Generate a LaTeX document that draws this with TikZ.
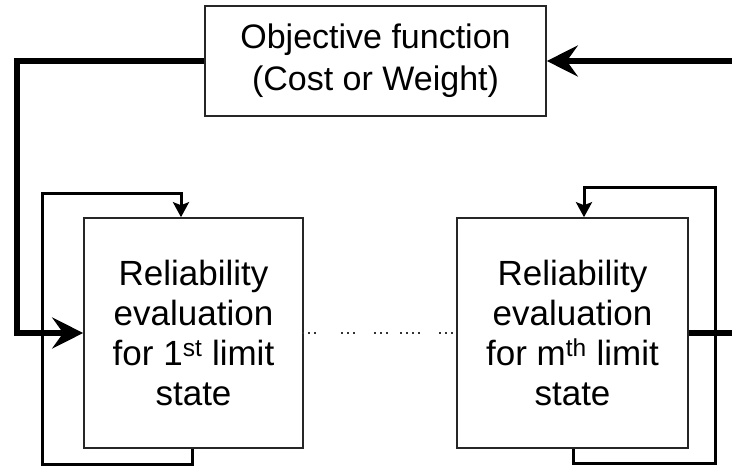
\documentclass[tikz,border=0pt]{standalone}
\usepackage{fontspec}
\setmainfont{Liberation Sans}
\usetikzlibrary{arrows.meta}
\begin{document}
\begin{tikzpicture}[x=1pt,y=-1pt,
  boxstyle/.style={draw=black!85,line width=1.6pt,fill=white,inner sep=0pt,align=center},
  bigtext/.style={font=\fontsize{35}{40}\selectfont},
  toptext/.style={font=\fontsize{34}{42}\selectfont},
  thickline/.style={line width=6.5pt},
  thickarrow/.style={line width=6.5pt,-{Stealth[length=31pt,width=31pt,inset=11pt]}},
  thinarrow/.style={line width=3pt,-{Stealth[length=15pt,width=16pt,inset=3pt]}},
  dotstyle/.style={fill=black!80}]
\clip (0,0) rectangle (732,467);
\useasboundingbox (0,0) rectangle (732,467);
\fill[white] (0,0) rectangle (732,467);

\node[boxstyle,toptext,minimum width=341pt,minimum height=110pt] (top) at (375.5,61)
  {Objective function\\(Cost or Weight)};
\node[boxstyle,bigtext,minimum width=219pt,minimum height=230pt] (L) at (193.5,333)
  {Reliability\\evaluation\\for 1\textsuperscript{st} limit\\state};
\node[boxstyle,bigtext,minimum width=231pt,minimum height=230pt] (R) at (572.5,333)
  {Reliability\\evaluation\\for m\textsuperscript{th} limit\\state};

% thick connectors
\coordinate (lc) at (17,61);
\coordinate (te) at (745,61);
\coordinate (re) at (745,333);
\draw[thickarrow] (top.west) -- (lc) |- (L.west);
\draw[thickarrow] (te) -- (top.east);
\draw[thickline] (R.east) -- (re);

% thin loops
\coordinate (lb) at (192,464);
\coordinate (lt) at (42,193);
\coordinate (la) at (181,218);
\draw[thinarrow] (L.south -| lb) -- (lb) -| (lt) -| (L.north -| la);
\coordinate (rb) at (573,463);
\coordinate (rt) at (715,187);
\coordinate (ra) at (584,218);
\draw[thinarrow] (R.south -| rb) -- (rb) -| (rt) -| (R.north -| ra);

% dots between boxes
\foreach \x in {303,309,315,342,348,354,375,381,387,401,407,413,419,440,446,452}
  \fill[dotstyle] (\x-1.3,333-1.3) rectangle (\x+1.3,333+1.3);
\end{tikzpicture}
\end{document}
